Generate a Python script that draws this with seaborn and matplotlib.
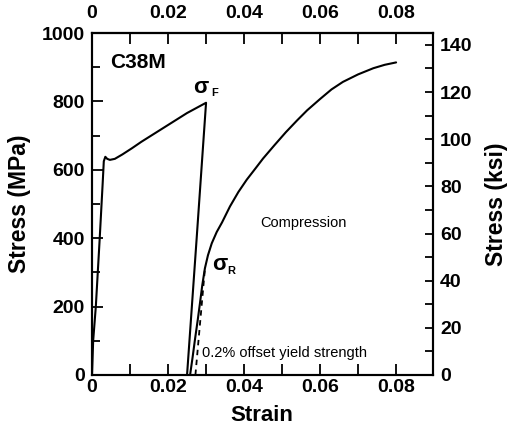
import numpy as np
import pandas as pd
import matplotlib.pyplot as plt
from matplotlib.ticker import MultipleLocator, FixedLocator, FixedFormatter
import seaborn as sns

# Data
# --------------
tension_strain = [0.0, 0.0003, 0.001, 0.002, 0.0028, 0.0031, 0.0035, 0.0040, 0.0047,
                  0.0060, 0.0080, 0.0105, 0.0130, 0.0170, 0.0210, 0.0250, 0.0300,
                  0.0275, 0.0250]
tension_stress = [0, 100, 200, 395, 560, 625, 638, 632, 629,
                  632, 645, 663, 682, 710, 738, 766, 796,
                  395, 0]

comp_strain = [0.0258, 0.0265, 0.0271, 0.0278, 0.0284, 0.0290, 0.0297, 0.0305, 0.0315,
               0.0328, 0.0342, 0.0363, 0.0385, 0.0407, 0.0430, 0.0450, 0.0480, 0.0510,
               0.0540, 0.0566, 0.0600, 0.0630, 0.0660, 0.0700, 0.0740, 0.0770, 0.0800]
comp_stress = [0, 55, 105, 160, 210, 262, 312, 350, 385,
               418, 446, 493, 535, 571, 604, 633, 672, 710,
               745, 774, 807, 835, 857, 879, 897, 907, 914]

offset_strain = [0.0272, 0.0297]
offset_stress = [0, 310]

x_ticks = [0, 0.01, 0.02, 0.03, 0.04, 0.05, 0.06, 0.07, 0.08]
x_labels = ["0", "", "0.02", "", "0.04", "", "0.06", "", "0.08"]
MPA_PER_KSI = 6.894757

# Set-up
# --------------
sns.set_theme(style="white")
plt.rcParams['font.family'] = ['Liberation Sans', 'DejaVu Sans']
plt.rcParams['font.weight'] = 'bold'
plt.rcParams['axes.labelweight'] = 'bold'
plt.rcParams['text.color'] = 'black'
plt.rcParams['axes.labelcolor'] = 'black'
plt.rcParams['xtick.color'] = 'black'
plt.rcParams['ytick.color'] = 'black'

figure = plt.figure(figsize=(5.07, 4.32), dpi=100)
ax = figure.add_axes([0.1815, 0.132, 0.6725, 0.7916])

tension = pd.DataFrame({"strain": tension_strain, "stress": tension_stress})
compression = pd.DataFrame({"strain": comp_strain, "stress": comp_stress})
offset = pd.DataFrame({"strain": offset_strain, "stress": offset_stress})

sns.lineplot(tension, x="strain", y="stress", sort=False, estimator=None,
             color="black", lw=1.5, ax=ax)
sns.lineplot(compression, x="strain", y="stress", sort=False, estimator=None,
             color="black", lw=1.5, ax=ax)
sns.lineplot(offset, x="strain", y="stress", sort=False, estimator=None,
             color="black", lw=1.3, ax=ax)
ax.lines[-1].set_dashes([3, 2.5])

ax.set_xlim(0, 0.0897)
ax.set_ylim(0, 1000)

# Axes and ticks
# --------------
for spine in ax.spines.values():
    spine.set_linewidth(1.5)
    spine.set_color("black")

ax.xaxis.set_major_locator(FixedLocator(x_ticks))
ax.xaxis.set_major_formatter(FixedFormatter(x_labels))
ax.tick_params(axis="x", which="major", direction="in", length=8, width=1.3,
               top=True, bottom=True, labeltop=False, labelbottom=True,
               labelsize=14, pad=3)
ax.yaxis.set_major_locator(MultipleLocator(200))
ax.yaxis.set_minor_locator(MultipleLocator(100))
ax.tick_params(axis="y", which="major", direction="in", length=8, width=1.3,
               left=True, right=False, labelsize=14, pad=5)
ax.tick_params(axis="y", which="minor", direction="in", length=5.5, width=1.3,
               left=True, right=False)

# top strain labels sit a little further from the frame
top = ax.secondary_xaxis("top")
top.xaxis.set_major_locator(FixedLocator(x_ticks))
top.xaxis.set_major_formatter(FixedFormatter(x_labels))
top.tick_params(axis="x", direction="in", length=0, labelsize=14, pad=8)
top.spines["top"].set_linewidth(1.5)

ax2 = ax.twinx()
ax2.set_ylim(0, 1000 / MPA_PER_KSI)
ax2.yaxis.set_major_locator(MultipleLocator(20))
ax2.yaxis.set_minor_locator(MultipleLocator(10))
ax2.tick_params(axis="y", which="both", direction="in", length=5.5, width=1.3,
                labelsize=14, pad=5)
for spine in ax2.spines.values():
    spine.set_linewidth(1.5)
    spine.set_color("black")

for lab in (ax.get_xticklabels() + ax.get_yticklabels() +
            ax2.get_yticklabels() + top.get_xticklabels()):
    lab.set_fontweight("bold")

ax.set_xlabel("Strain", fontsize=16, fontweight="bold")
ax.set_ylabel("Stress (MPa)", fontsize=16.5, fontweight="bold")
ax2.set_ylabel("Stress (ksi)", fontsize=16.5, fontweight="bold")
ax.xaxis.set_label_coords(0.497, -0.088)
ax.yaxis.set_label_coords(-0.179, 0.5)
ax2.yaxis.set_label_coords(1.152, 0.5)

# Annotations
# --------------
ax.text(0.0048, 915, "C38M", fontsize=15, fontweight="bold", ha="left", va="center")
ax.text(0.0287, 842, "σ", fontsize=16, fontweight="bold", ha="center", va="center")
ax.text(0.0322, 826, "F", fontsize=8, fontweight="bold", ha="center", va="center")
ax.text(0.0337, 322, "σ", fontsize=16, fontweight="bold", ha="center", va="center")
ax.text(0.0367, 305, "R", fontsize=8, fontweight="bold", ha="center", va="center")
ax.text(0.0555, 444, "Compression", fontsize=10.5, fontweight="normal",
        ha="center", va="center")
ax.text(0.0290, 64, "0.2% offset yield strength", fontsize=10.5,
        fontweight="normal", ha="left", va="center")

# Rendering
# --------------
figure.savefig("out.png", dpi=100)
